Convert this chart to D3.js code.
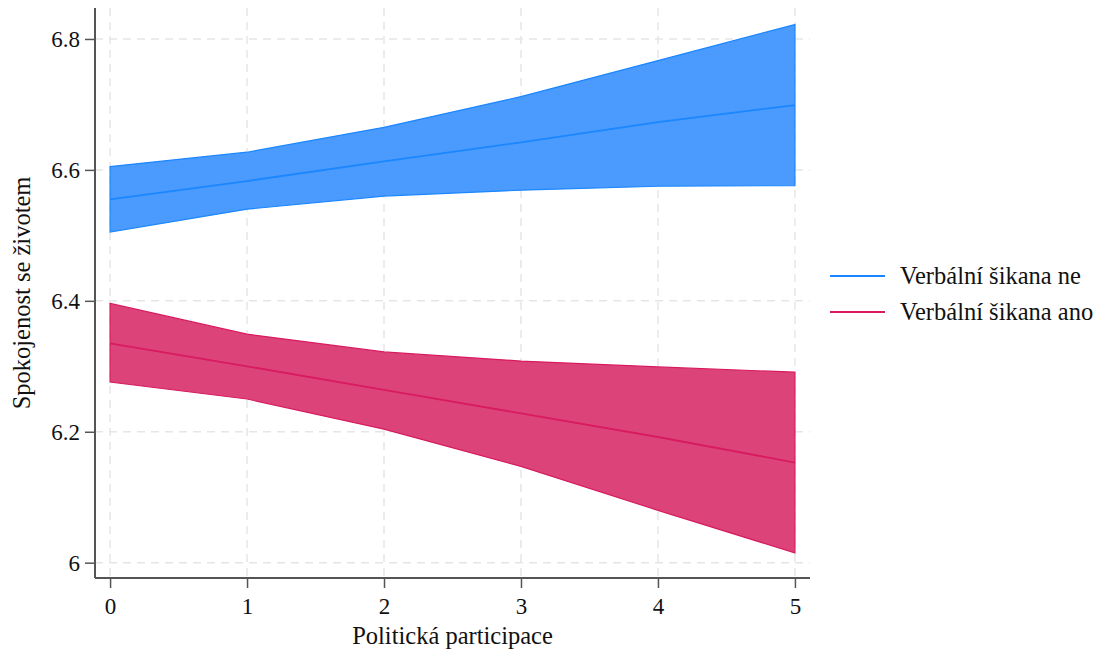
<!DOCTYPE html>
<html>
<head>
<meta charset="utf-8">
<script src="https://cdn.jsdelivr.net/npm/d3@7"></script>
<style>
body { margin: 0; background: #fff; }
text { font-family: "Liberation Serif", "Times New Roman", serif; fill: #111; }
</style>
</head>
<body>
<svg width="1099" height="657"></svg>
<script>
var xValues = [0, 1, 2, 3, 4, 5];
var xTicks = [0, 1, 2, 3, 4, 5];
var yTicks = [6, 6.2, 6.4, 6.6, 6.8];

var neMean  = [6.555, 6.583, 6.613, 6.642, 6.673, 6.699];
var neUpper = [6.605, 6.627, 6.665, 6.712, 6.767, 6.822];
var neLower = [6.505, 6.540, 6.560, 6.569, 6.575, 6.576];

var anoMean  = [6.335, 6.300, 6.264, 6.228, 6.192, 6.153];
var anoUpper = [6.396, 6.349, 6.322, 6.308, 6.299, 6.291];
var anoLower = [6.276, 6.250, 6.204, 6.147, 6.080, 6.015];

var seriesNames = ["Verbální šikana ne", "Verbální šikana ano"];

var svg = d3.select("svg");
var plotLeft = 95, plotRight = 810, plotTop = 8, plotBottom = 578;

var xScale = d3.scaleLinear().domain([-0.11, 5.11]).range([plotLeft, plotRight]);
var yScale = d3.scaleLinear().domain([5.9766, 6.8473]).range([plotBottom, plotTop]);

var series = [
    { name: seriesNames[0], mean: neMean, upper: neUpper, lower: neLower, fill: "#4a9bfd", stroke: "#1a86ff" },
    { name: seriesNames[1], mean: anoMean, upper: anoUpper, lower: anoLower, fill: "#dc4479", stroke: "#d81b60" }
];

// grid
var grid = svg.append("g");
grid.selectAll(".vg").data(xTicks).enter().append("line")
    .attr("x1", function (d) { return xScale(d); })
    .attr("x2", function (d) { return xScale(d); })
    .attr("y1", plotTop).attr("y2", plotBottom)
    .attr("stroke", "#e6e6e6").attr("stroke-width", 1.5).attr("stroke-dasharray", "8,6");
grid.selectAll(".hg").data(yTicks).enter().append("line")
    .attr("x1", plotLeft).attr("x2", plotRight)
    .attr("y1", function (d) { return yScale(d); })
    .attr("y2", function (d) { return yScale(d); })
    .attr("stroke", "#e6e6e6").attr("stroke-width", 1.5).attr("stroke-dasharray", "8,6");

// bands and lines
series.forEach(function (s) {
    var pts = xValues.map(function (x, i) { return { x: x, m: s.mean[i], u: s.upper[i], l: s.lower[i] }; });
    var area = d3.area()
        .x(function (d) { return xScale(d.x); })
        .y0(function (d) { return yScale(d.l); })
        .y1(function (d) { return yScale(d.u); });
    svg.append("path").datum(pts).attr("d", area)
        .attr("fill", s.fill).attr("stroke", s.stroke).attr("stroke-width", 1.2);
    var line = d3.line()
        .x(function (d) { return xScale(d.x); })
        .y(function (d) { return yScale(d.m); });
    svg.append("path").datum(pts).attr("d", line)
        .attr("fill", "none").attr("stroke", s.stroke).attr("stroke-width", 1.8);
});

// axes
var xaxis = svg.append("g").attr("transform", "translate(0," + plotBottom + ")")
    .call(d3.axisBottom(xScale).tickValues(xTicks).tickSize(10).tickPadding(10).tickFormat(d3.format("d")));
var yaxis = svg.append("g").attr("transform", "translate(" + plotLeft + ",0)")
    .call(d3.axisLeft(yScale).tickValues(yTicks).tickSize(10).tickPadding(5).tickFormat(function (d) { return d === 6 ? "6" : d3.format(".1f")(d); }));
[xaxis, yaxis].forEach(function (a) {
    a.attr("font-size", null).attr("font-family", null);
    a.select(".domain").attr("stroke", "#555").attr("stroke-width", 2);
    a.selectAll(".tick line").attr("stroke", "#555").attr("stroke-width", 1.5);
    a.selectAll(".tick text").style("font-size", "23px").attr("fill", "#111");
});
yaxis.select(".domain").attr("d", "M0," + plotTop + "V" + plotBottom);
xaxis.select(".domain").attr("d", "M" + plotLeft + ",0H" + plotRight);

svg.append("text").attr("x", (plotLeft + plotRight) / 2).attr("y", 644)
    .attr("text-anchor", "middle").style("font-size", "24.5px").text("Politická participace");
svg.append("text").attr("transform", "translate(30," + ((plotTop + plotBottom) / 2) + ") rotate(-90)")
    .attr("text-anchor", "middle").style("font-size", "24.5px").text("Spokojenost se životem");

// legend
var legend = svg.append("g");
series.forEach(function (s, i) {
    var y = 276 + i * 36;
    legend.append("line").attr("x1", 830).attr("x2", 885).attr("y1", y).attr("y2", y)
        .attr("stroke", s.stroke).attr("stroke-width", 2);
    legend.append("text").attr("x", 900).attr("y", y + 8).style("font-size", "24.5px").text(s.name);
});
</script>
</body>
</html>
